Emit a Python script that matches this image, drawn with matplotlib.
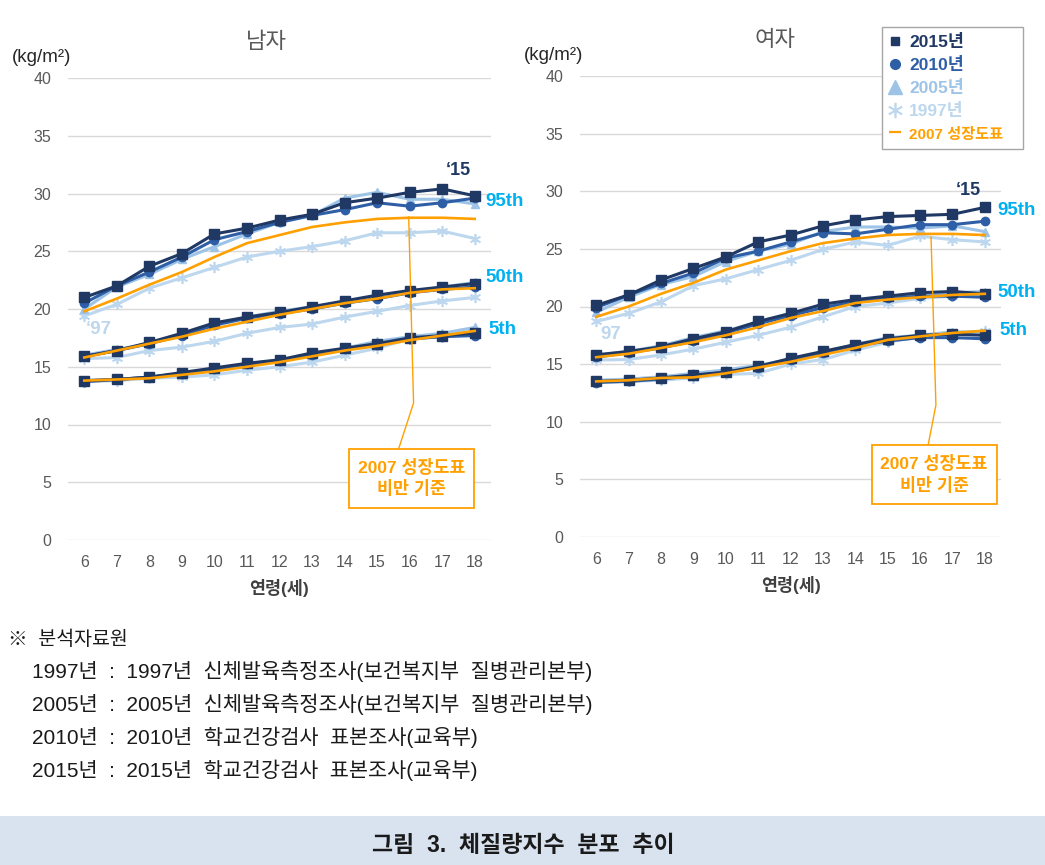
import matplotlib
matplotlib.use("Agg")
import matplotlib.pyplot as plt
from matplotlib.lines import Line2D
from matplotlib.patches import Rectangle

plt.rcParams['font.family'] = ['Liberation Sans', 'Noto Sans CJK KR', 'DejaVu Sans']

ages = [6, 7, 8, 9, 10, 11, 12, 13, 14, 15, 16, 17, 18]

# ---- Male (남자) ----
m15_95 = [21.0, 22.0, 23.7, 24.8, 26.5, 27.0, 27.7, 28.2, 29.2, 29.6, 30.1, 30.4, 29.8]
m10_95 = [20.5, 22.0, 23.2, 24.5, 26.0, 26.7, 27.5, 28.1, 28.6, 29.2, 28.9, 29.2, 29.6]
m05_95 = [20.0, 21.9, 23.0, 24.3, 25.4, 26.5, 27.5, 28.1, 29.6, 30.1, 29.5, 29.5, 29.1]
m97_95 = [19.4, 20.4, 21.8, 22.7, 23.6, 24.5, 25.0, 25.4, 25.9, 26.6, 26.6, 26.75, 26.1]
m07_95 = [19.8, 20.9, 22.1, 23.2, 24.5, 25.7, 26.4, 27.1, 27.5, 27.8, 27.9, 27.9, 27.8]

m15_50 = [15.9, 16.4, 17.1, 17.9, 18.8, 19.3, 19.7, 20.2, 20.7, 21.2, 21.6, 21.9, 22.2]
m10_50 = [15.9, 16.4, 17.0, 17.7, 18.6, 19.2, 19.6, 20.0, 20.5, 20.9, 21.4, 21.7, 21.9]
m05_50 = [16.0, 16.5, 17.0, 17.8, 18.7, 19.3, 19.8, 20.2, 20.6, 21.0, 21.5, 21.9, 22.3]
m97_50 = [15.7, 15.8, 16.4, 16.7, 17.2, 17.9, 18.4, 18.7, 19.3, 19.8, 20.3, 20.7, 21.0]
m07_50 = [15.8, 16.4, 17.0, 17.6, 18.3, 18.9, 19.5, 20.0, 20.5, 20.9, 21.4, 21.7, 21.8]

m15_5 = [13.8, 13.9, 14.1, 14.5, 14.9, 15.3, 15.6, 16.2, 16.6, 17.0, 17.5, 17.7, 17.9]
m10_5 = [13.7, 13.9, 14.1, 14.4, 14.8, 15.2, 15.5, 16.0, 16.5, 16.9, 17.4, 17.6, 17.7]
m05_5 = [13.8, 13.9, 14.1, 14.4, 14.8, 15.2, 15.6, 16.0, 16.6, 17.2, 17.6, 17.9, 18.4]
m97_5 = [13.7, 13.8, 14.0, 14.1, 14.3, 14.7, 15.0, 15.4, 16.0, 16.6, 17.4, 17.7, 18.1]
m07_5 = [13.8, 13.9, 14.0, 14.3, 14.6, 15.0, 15.4, 15.9, 16.4, 16.8, 17.3, 17.7, 18.1]

# ---- Female (여자) ----
f15_95 = [20.1, 21.0, 22.3, 23.3, 24.3, 25.6, 26.2, 27.0, 27.5, 27.8, 27.9, 28.0, 28.6]
f10_95 = [19.9, 21.0, 22.0, 22.9, 24.2, 24.8, 25.6, 26.4, 26.3, 26.7, 27.1, 27.1, 27.4]
f05_95 = [19.5, 20.8, 21.9, 22.6, 23.9, 24.8, 25.4, 26.5, 26.9, 26.9, 26.8, 27.0, 26.5]
f97_95 = [18.7, 19.4, 20.4, 21.8, 22.4, 23.2, 24.0, 24.95, 25.6, 25.3, 26.1, 25.8, 25.6]
f07_95 = [19.1, 20.0, 21.1, 22.05, 23.2, 24.0, 24.8, 25.5, 25.9, 26.2, 26.3, 26.3, 26.2]

f15_50 = [15.8, 16.1, 16.5, 17.2, 17.8, 18.7, 19.4, 20.2, 20.6, 20.9, 21.2, 21.3, 21.1]
f10_50 = [15.6, 16.0, 16.4, 17.0, 17.7, 18.5, 19.2, 19.9, 20.4, 20.7, 20.9, 20.9, 20.8]
f05_50 = [15.8, 16.1, 16.6, 17.3, 17.9, 18.6, 19.4, 20.0, 20.4, 20.8, 21.1, 21.2, 21.3]
f97_50 = [15.35, 15.4, 15.8, 16.3, 16.9, 17.5, 18.2, 19.1, 20.0, 20.3, 20.7, 20.9, 21.0]
f07_50 = [15.6, 15.9, 16.4, 16.9, 17.5, 18.2, 19.0, 19.6, 20.3, 20.6, 20.8, 21.0, 21.1]

f15_5 = [13.5, 13.6, 13.8, 14.05, 14.3, 14.8, 15.5, 16.1, 16.7, 17.2, 17.5, 17.6, 17.5]
f10_5 = [13.4, 13.5, 13.7, 14.0, 14.3, 14.7, 15.4, 16.0, 16.6, 17.0, 17.3, 17.3, 17.2]
f05_5 = [13.6, 13.7, 13.9, 14.2, 14.5, 14.9, 15.4, 16.0, 16.7, 17.3, 17.5, 17.8, 17.8]
f97_5 = [13.5, 13.5, 13.6, 13.8, 14.1, 14.2, 15.0, 15.4, 16.2, 16.9, 17.4, 17.6, 17.9]
f07_5 = [13.5, 13.6, 13.8, 13.85, 14.2, 14.7, 15.2, 15.8, 16.4, 17.1, 17.4, 17.7, 17.9]

yticks = [0, 5, 10, 15, 20, 25, 30, 35, 40]
legend_labels = ['2015년', '2010년', '2005년', '1997년', '2007 성장도표']
footer_head = '※  분석자료원'
footer_lines = [
    '1997년  :  1997년  신체발육측정조사(보건복지부  질병관리본부)',
    '2005년  :  2005년  신체발육측정조사(보건복지부  질병관리본부)',
    '2010년  :  2010년  학교건강검사  표본조사(교육부)',
    '2015년  :  2015년  학교건강검사  표본조사(교육부)',
]
caption = '그림  3.  체질량지수  분포  추이'

C15 = '#1f3864'
C10 = '#2e5fa6'
C05 = '#9dc3e6'
C97 = '#bdd7ee'
COR = '#ffa000'
CLAB = '#00b0f0'
GRAY = '#595959'

W, H = 1045, 865
fig = plt.figure(figsize=(W / 100, H / 100), dpi=100)


def add_ax(left_px, right_px, top_px, bottom_px):
    return fig.add_axes([left_px / W, 1 - bottom_px / H,
                         (right_px - left_px) / W, (bottom_px - top_px) / H])


def draw(ax, d15, d10, d05, d97, d07):
    for grp in range(3):
        ax.plot(ages, d97[grp], color=C97, lw=2.2, marker=(6, 2, 0), ms=8, mew=1.2, zorder=2)
        ax.plot(ages, d05[grp], color=C05, lw=2.2, marker='^', ms=6, zorder=3)
        ax.plot(ages, d10[grp], color=C10, lw=2.2, marker='o', ms=6, zorder=4)
        ax.plot(ages, d15[grp], color=C15, lw=2.2, marker='s', ms=6.5, zorder=5)
        ax.plot(ages, d07[grp], color=COR, lw=1.9, zorder=6)
    ax.set_xlim(5.5, 18.5)
    ax.set_ylim(0, 40)
    ax.set_xticks(ages)
    ax.set_yticks(yticks)
    ax.grid(axis='y', color='#d9d9d9', lw=1)
    ax.set_axisbelow(True)
    for s in ax.spines.values():
        s.set_visible(False)
    ax.tick_params(length=0, labelsize=11.5, labelcolor=GRAY)
    ax.tick_params(axis='y', pad=12)
    ax.tick_params(axis='x', pad=11)


axL = add_ax(68, 491, 78, 540)
axR = add_ax(580, 1001, 76, 537)

draw(axL, [m15_95, m15_50, m15_5], [m10_95, m10_50, m10_5], [m05_95, m05_50, m05_5],
     [m97_95, m97_50, m97_5], [m07_95, m07_50, m07_5])
draw(axR, [f15_95, f15_50, f15_5], [f10_95, f10_50, f10_5], [f05_95, f05_50, f05_5],
     [f97_95, f97_50, f97_5], [f07_95, f07_50, f07_5])

for ax in (axL, axR):
    ax.set_xlabel('연령(세)', fontsize=12.5, fontweight='bold', color='#404040', labelpad=6)
    ax.text(-0.133, 1.045, '(kg/m²)', transform=ax.transAxes, fontsize=13.5,
            color='#262626', ha='left', va='center')

fig.text(266 / W, 1 - 42 / H, '남자', fontsize=16, color=GRAY, ha='center', va='center')
fig.text(775 / W, 1 - 40 / H, '여자', fontsize=16, color=GRAY, ha='center', va='center')

# percentile labels
lab_kw = dict(fontsize=13.5, fontweight='bold', color=CLAB, ha='left', va='center')
axL.text(18.33, 29.3, '95th', **lab_kw)
axL.text(18.33, 22.7, '50th', **lab_kw)
axL.text(18.43, 18.2, '5th', **lab_kw)
axL.text(17.5, 32.0, '‘15', fontsize=13, fontweight='bold', color=C15, ha='center', va='center')
axL.text(6.05, 18.2, '‘97', fontsize=13.5, fontweight='bold', color=C97, ha='left', va='center')

axR.text(18.4, 28.3, '95th', **lab_kw)
axR.text(18.4, 21.2, '50th', **lab_kw)
axR.text(18.45, 17.9, '5th', **lab_kw)
axR.text(17.48, 30.1, '‘15', fontsize=13, fontweight='bold', color=C15, ha='center', va='center')
axR.text(6.12, 17.6, '97', fontsize=13.5, fontweight='bold', color=C97, ha='left', va='center')

# callouts
for ax, pts, box, tc in (
        (axL, ([15.97, 16.12, 15.66], [27.97, 11.86, 7.88]), (14.15, 2.77, 3.83, 5.11), (16.06, 5.37)),
        (axR, ([16.34, 16.49, 16.25], [26.02, 11.45, 7.98]), (14.52, 2.86, 3.86, 5.12), (16.43, 5.46))):
    ax.plot(pts[0], pts[1], color=COR, lw=1.0, zorder=7, clip_on=False)
    ax.add_patch(Rectangle((box[0], box[1]), box[2], box[3], facecolor='white',
                           edgecolor=COR, lw=1.3, zorder=8, clip_on=False))
    ax.text(tc[0], tc[1], '2007 성장도표\n비만 기준', fontsize=12.5, fontweight='bold',
            color=COR, ha='center', va='center', linespacing=1.35, zorder=9)

# legend
handles = [
    Line2D([], [], ls='none', marker='s', color=C15, ms=6),
    Line2D([], [], ls='none', marker='o', color=C10, ms=7),
    Line2D([], [], ls='none', marker='^', color=C05, ms=10),
    Line2D([], [], ls='none', marker=(6, 2, 0), color=C97, ms=11, mew=1.2),
    Line2D([], [], ls='none', marker='_', color=COR, ms=8, mew=1.6),
]
leg = fig.legend(handles, legend_labels, loc='upper left',
                 bbox_to_anchor=(882 / W, 1 - 152 / H, 141 / W, 125 / H), mode='expand',
                 frameon=True, fancybox=False,
                 edgecolor='#a6a6a6', framealpha=1, borderpad=0.4, labelspacing=0.41,
                 handlelength=0.7, handletextpad=0.45, borderaxespad=0,
                 labelcolor=[C15, C10, C05, C97, COR],
                 prop={'weight': 'bold', 'size': 12.5})
leg.get_frame().set_linewidth(1.0)
leg.get_texts()[4].set_fontsize(11)

# footer
fig.text(8 / W, 1 - 640 / H, footer_head, fontsize=14, color='#1a1a1a', ha='left', va='center')
for i, line in enumerate(footer_lines):
    fig.text(32 / W, 1 - (671 + 33 * i) / H, line, fontsize=15, color='#1a1a1a',
             ha='left', va='center')

fig.patches.append(Rectangle((0, 0), 1, 49 / H, transform=fig.transFigure,
                             facecolor='#d9e3f0', edgecolor='none', zorder=0))
fig.text(523 / W, 1 - 846 / H, caption, fontsize=16.5, fontweight='bold',
         color='#1a1a1a', ha='center', va='center')

fig.savefig('out.png', dpi=100)
